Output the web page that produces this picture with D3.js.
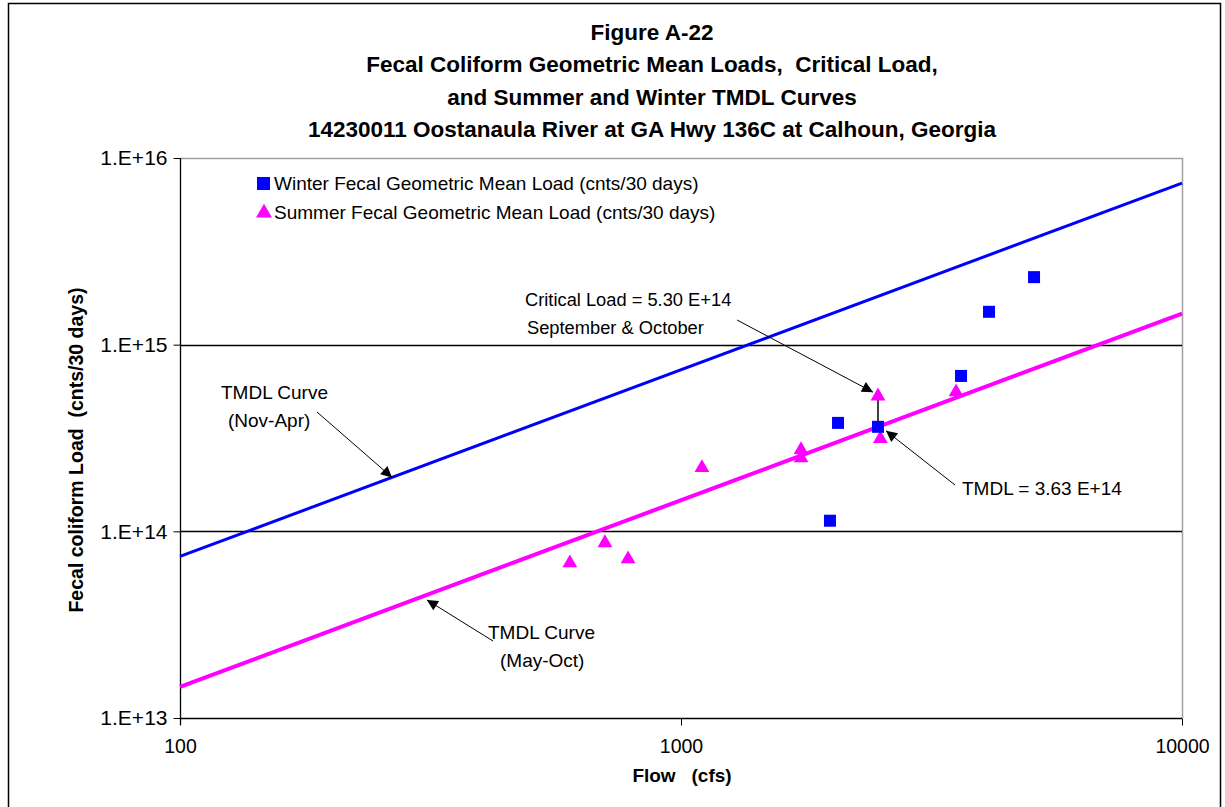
<!DOCTYPE html>
<html>
<head>
<meta charset="utf-8">
<script src="https://cdn.jsdelivr.net/npm/d3@7/dist/d3.min.js"></script>
<style>
  html, body { margin: 0; padding: 0; background: #fff; }
  svg { display: block; font-family: "Liberation Sans", Arial, sans-serif; }
  text { white-space: pre; }
</style>
</head>
<body>
<svg id="chart" width="1225" height="807"></svg>
<script>
// Title lines
const titleLines = [
  "Figure A-22",
  "Fecal Coliform Geometric Mean Loads,  Critical Load,",
  "and Summer and Winter TMDL Curves",
  "14230011 Oostanaula River at GA Hwy 136C at Calhoun, Georgia"
];

// Axis ticks
const xTicks = [100, 1000, 10000];
const xTickLabels = ["100", "1000", "10000"];
const yTicks = [1e13, 1e14, 1e15, 1e16];
const yTickLabels = ["1.E+13", "1.E+14", "1.E+15", "1.E+16"];

// Winter geometric mean loads: flow (cfs), load (cnts/30 days)
const winterFlow = [1983, 2058, 2473, 3622, 4119, 5066];
const winterLoad = [1.14e14, 3.81e14, 3.63e14, 6.8e14, 1.50e15, 2.30e15];

// Summer geometric mean loads: flow (cfs), load (cnts/30 days)
const summerFlow = [600, 705, 784, 1101, 1736, 1736, 2473, 2500, 3540];
const summerLoad = [6.77e13, 8.67e13, 7.11e13, 2.19e14, 2.73e14, 2.47e14, 5.30e14, 3.13e14, 5.58e14];

// TMDL curves (end points, straight on log-log axes)
const tmdlFlow = [100, 10000];
const tmdlWinter = [7.34e13, 7.34e15];
const tmdlSummer = [1.468e13, 1.468e15];

// Critical condition
const criticalFlow = 2473;
const criticalLoad = 5.30e14;
const tmdlAtCritical = 3.63e14;

const svg = d3.select("#chart");
const plot = { left: 180, right: 1182, top: 158, bottom: 718 };

const x = d3.scaleLog().domain([100, 10000]).range([plot.left, plot.right]);
const y = d3.scaleLog().domain([1e13, 1e16]).range([plot.bottom, plot.top]);

// outer frame
svg.append("rect")
  .attr("x", 8.5).attr("y", 3.5).attr("width", 1212).attr("height", 830)
  .attr("fill", "none").attr("stroke", "#000").attr("stroke-width", 1.5);

// title
svg.append("g").selectAll("text").data(titleLines).join("text")
  .attr("x", 652)
  .attr("y", (d, i) => 40 + i * 32.3)
  .attr("text-anchor", "middle")
  .attr("font-size", 22.5)
  .attr("font-weight", "bold")
  .attr("fill", "#000")
  .text(d => d);

// plot border (top & right, grey)
svg.append("path")
  .attr("d", `M${plot.left},${plot.top + 0.5}H${plot.right + 0.5}V${plot.bottom}`)
  .attr("fill", "none").attr("stroke", "#a0a0a0").attr("stroke-width", 1.5);

// horizontal gridlines at interior decades
svg.append("g").selectAll("line").data(yTicks.filter(v => v > 1e13 && v < 1e16)).join("line")
  .attr("x1", plot.left).attr("x2", plot.right)
  .attr("y1", d => Math.round(y(d)) + 0.5).attr("y2", d => Math.round(y(d)) + 0.5)
  .attr("stroke", "#000").attr("stroke-width", 1.3);

// axes
const yAxis = d3.axisLeft(y).tickValues(yTicks)
  .tickFormat((d, i) => yTickLabels[i]).tickSize(7).tickPadding(6);
const gy = svg.append("g").attr("transform", `translate(${plot.left + 0.5},0)`).call(yAxis);
gy.select(".domain").attr("stroke", "#000").attr("stroke-width", 1.3)
  .attr("d", `M0,${plot.top}V${plot.bottom + 7}`);
gy.selectAll(".tick line").attr("stroke", "#000");
gy.selectAll(".tick text").attr("font-size", 21).attr("fill", "#000")
  .attr("font-family", "'Liberation Sans', Arial, sans-serif");

const xAxis = d3.axisBottom(x).tickValues(xTicks)
  .tickFormat((d, i) => xTickLabels[i]).tickSize(7).tickPadding(14);
const gx = svg.append("g").attr("transform", `translate(0,${plot.bottom + 0.5})`).call(xAxis);
gx.select(".domain").attr("stroke", "#000").attr("stroke-width", 1.3)
  .attr("d", `M${plot.left},0H${plot.right}`);
gx.selectAll(".tick line").attr("stroke", "#000");
gx.selectAll(".tick text").attr("font-size", 19.5).attr("fill", "#000")
  .attr("font-family", "'Liberation Sans', Arial, sans-serif");

// axis titles
svg.append("text")
  .attr("x", 682).attr("y", 782)
  .attr("text-anchor", "middle").attr("font-size", 19).attr("font-weight", "bold")
  .text("Flow   (cfs)");
svg.append("text")
  .attr("transform", "translate(83,450) rotate(-90)")
  .attr("text-anchor", "middle").attr("font-size", 19.5).attr("font-weight", "bold")
  .text("Fecal coliform Load  (cnts/30 days)");

// TMDL curves
const line = d3.line().x(d => x(d[0])).y(d => y(d[1]));
svg.append("path")
  .datum(tmdlFlow.map((f, i) => [f, tmdlWinter[i]]))
  .attr("d", line).attr("fill", "none").attr("stroke", "#0000ff").attr("stroke-width", 3);
svg.append("path")
  .datum(tmdlFlow.map((f, i) => [f, tmdlSummer[i]]))
  .attr("d", line).attr("fill", "none").attr("stroke", "#ff00ff").attr("stroke-width", 4);

// critical load connector
svg.append("line")
  .attr("x1", x(criticalFlow)).attr("x2", x(criticalFlow))
  .attr("y1", y(criticalLoad)).attr("y2", y(tmdlAtCritical))
  .attr("stroke", "#000").attr("stroke-width", 1.5);

// markers
const tri = d3.symbol().type(d3.symbolTriangle).size(95);
svg.append("g").selectAll("path").data(summerFlow.map((f, i) => [f, summerLoad[i]])).join("path")
  .attr("d", tri)
  .attr("transform", d => `translate(${x(d[0])},${y(d[1])})`)
  .attr("fill", "#ff00ff");
svg.append("g").selectAll("rect").data(winterFlow.map((f, i) => [f, winterLoad[i]])).join("rect")
  .attr("x", d => x(d[0]) - 6).attr("y", d => y(d[1]) - 6)
  .attr("width", 12).attr("height", 12)
  .attr("fill", "#0000ff");

// legend
const legend = svg.append("g");
legend.append("rect").attr("x", 257).attr("y", 177).attr("width", 13).attr("height", 13).attr("fill", "#0000ff");
legend.append("path").attr("d", d3.symbol().type(d3.symbolTriangle).size(110))
  .attr("transform", "translate(264,213)").attr("fill", "#ff00ff");
legend.append("text").attr("x", 274).attr("y", 190).attr("font-size", 19)
  .text("Winter Fecal Geometric Mean Load (cnts/30 days)");
legend.append("text").attr("x", 274).attr("y", 219).attr("font-size", 19)
  .text("Summer Fecal Geometric Mean Load (cnts/30 days)");

// annotation arrows
svg.append("defs").append("marker")
  .attr("id", "head").attr("viewBox", "0 0 10 10")
  .attr("refX", 10).attr("refY", 5)
  .attr("markerWidth", 14).attr("markerHeight", 11)
  .attr("markerUnits", "userSpaceOnUse")
  .attr("orient", "auto")
  .append("path").attr("d", "M0,0L10,5L0,10Z").attr("fill", "#000");

function arrow(x1, y1, x2, y2) {
  svg.append("line")
    .attr("x1", x1).attr("y1", y1).attr("x2", x2).attr("y2", y2)
    .attr("stroke", "#000").attr("stroke-width", 1)
    .attr("marker-end", "url(#head)");
}

function label(lines, x0, y0, size) {
  const t = svg.append("text").attr("font-size", size).attr("fill", "#000");
  lines.forEach((s, i) => {
    t.append("tspan").attr("x", x0[i]).attr("y", y0 + i * 28).text(s);
  });
}

// Critical load note
label(["Critical Load = 5.30 E+14", "September & October"], [525, 527], 306, 18.3);
arrow(737, 320, x(criticalFlow) - 5, y(criticalLoad) - 4);

// TMDL value note
label(["TMDL = 3.63 E+14"], [962], 495, 19);
arrow(955, 485, x(criticalFlow) + 8, y(tmdlAtCritical) + 4);

// Winter curve note
label(["TMDL Curve", "(Nov-Apr)"], [221, 228], 399, 19);
arrow(317, 412, x(265), y(7.34e11 * 265));

// Summer curve note
label(["TMDL Curve", "(May-Oct)"], [488, 500], 639, 19);
arrow(493, 641, x(311), y(1.468e11 * 311) + 5);
</script>
</body>
</html>
